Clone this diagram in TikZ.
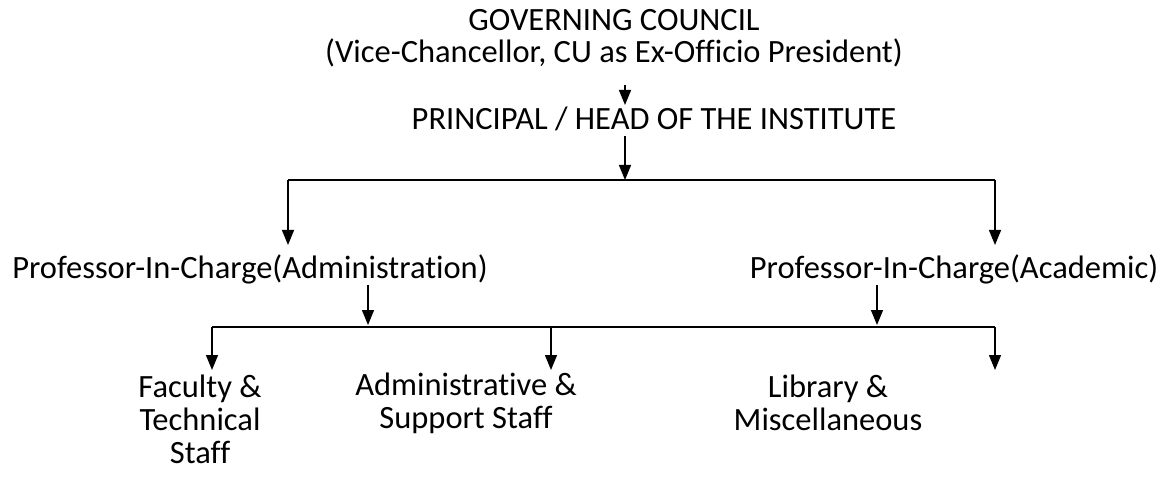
\documentclass[tikz,border=0pt]{standalone}
\usepackage{fontspec}
\setmainfont[Ligatures={NoCommon}]{Carlito}
\usetikzlibrary{arrows.meta}
\begin{document}
\begin{tikzpicture}[x=1pt,y=-1pt,
  lbl/.style={inner sep=0pt,font=\fontsize{32.5}{33}\selectfont,align=center},
  arr/.style={line width=1.4pt,-{Triangle[length=15pt,width=12pt]}},
  ln/.style={line width=1.4pt}]
\useasboundingbox (0,0) rectangle (1164,478);
\node[lbl] (gc) at (614,20) {GOVERNING COUNCIL};
\node[lbl] (vc) at (614,53) {(Vice-Chancellor, CU as Ex-Officio President)};
\node[lbl] (pr) at (654,119) {PRINCIPAL / HEAD OF THE INSTITUTE};
\node[lbl] (pa) at (250,269) {Professor-In-Charge(Administration)};
\node[lbl] (pc) at (954,269) {Professor-In-Charge(Academic)};
\node[lbl] (ft) at (200,419) {Faculty \&\\Technical\\Staff};
\node[lbl] (as) at (466,403) {Administrative \&\\Support Staff};
\node[lbl] (lm) at (828,403) {Library \&\\Miscellaneous};
% coordinates
\coordinate (a1s) at (625,85);
\coordinate (a1e) at (625,105);
\coordinate (a2s) at (625,136);
\coordinate (h1m) at (625,180);
\coordinate (h1l) at (288,180);
\coordinate (h1r) at (995,180);
\coordinate (pal) at (288,245);
\coordinate (par) at (995,245);
\coordinate (b1s) at (368,285);
\coordinate (b1e) at (368,325);
\coordinate (b2s) at (877,285);
\coordinate (b2e) at (877,325);
\coordinate (h2l) at (212,327);
\coordinate (h2m) at (551,327);
\coordinate (h2r) at (995,327);
\coordinate (t1) at (212,370);
\coordinate (t2) at (551,370);
\coordinate (t3) at (995,370);
\draw[arr] (a1s) -- (a1e);
\draw[arr] (a2s) -- (h1m);
\draw[ln] (h1l) -- (h1r);
\draw[arr] (h1l) -- (pal);
\draw[arr] (h1r) -- (par);
\draw[arr] (b1s) -- (b1e);
\draw[arr] (b2s) -- (b2e);
\draw[ln] (h2l) -- (h2r);
\draw[arr] (h2l) -- (t1);
\draw[arr] (h2m) -- (t2);
\draw[arr] (h2r) -- (t3);
\end{tikzpicture}
\end{document}
